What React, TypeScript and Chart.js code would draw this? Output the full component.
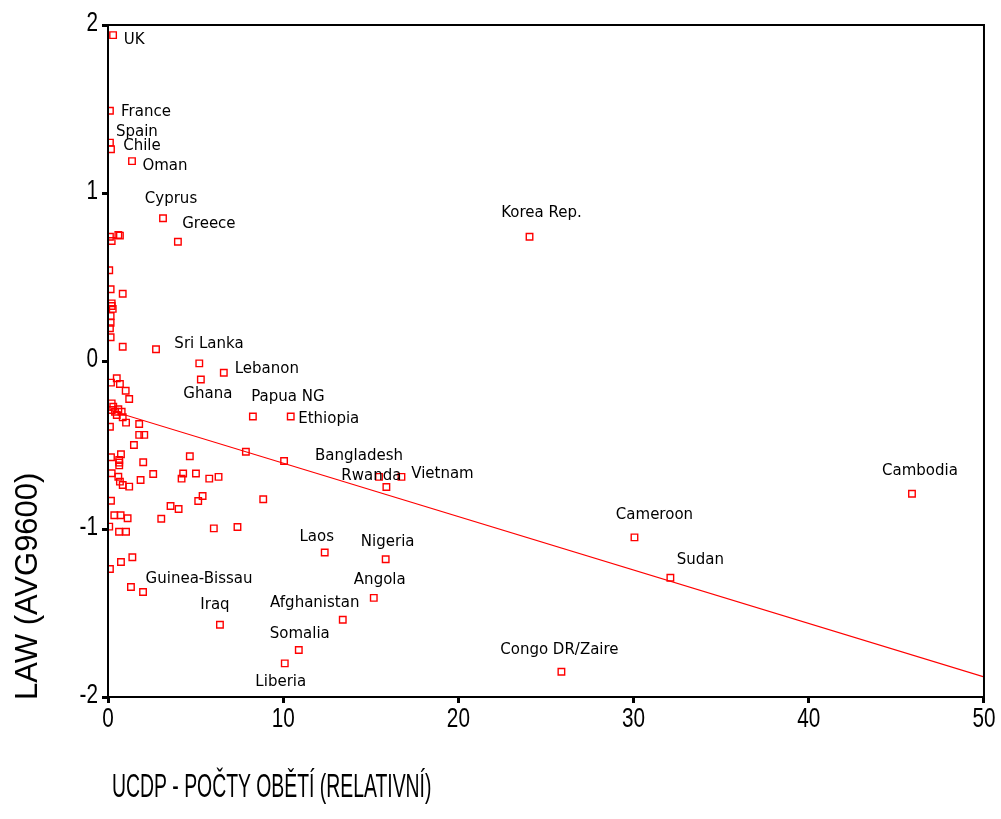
import React, { useEffect, useRef } from "react";
import { Chart, registerables } from "chart.js";

Chart.register(...registerables);

// ---- data ----
const pointNames: string[] = [
  "UK", "France", "Spain", "Chile", "Oman", "Cyprus", "Greece", "Korea Rep.",
  "Sri Lanka", "Lebanon", "Ghana", "Papua NG", "Ethiopia", "Bangladesh", "Vietnam",
  "Rwanda", "Cambodia", "Cameroon", "Sudan", "Laos", "Nigeria", "Angola",
  "Afghanistan", "Somalia", "Liberia", "Congo DR/Zaire", "Iraq", "Guinea-Bissau",
  "", "", "", "", "", "", "", "", "", "", "", "", "", "", "", "", "", "", "", "",
  "", "", "", "", "", "", "", "", "", "", "", "", "", "", "", "", "", "", "", "",
  "", "", "", "", "", "", "", "", "", "", "", "", "", "", "", "", "", "", "", "",
  "", "", "", "", "", "", "",
];

const casualties: number[] = [
  0.29, 0.11, 0.11, 0.17, 1.37, 3.14, 3.99, 24.06,
  2.74, 6.61, 5.3, 8.27, 10.43, 15.47, 16.75,
  15.89, 45.89, 30.05, 32.1, 12.37, 15.85, 15.17,
  13.4, 10.89, 10.09, 25.88, 6.39, 2.0,
  0.11, 0.21, 0.59, 0.68, 0.07, 0.15, 0.84, 0.21, 0.21, 0.27, 0.15, 0.15, 0.11, 0.15, 0.84, 5.21,
  0.17, 0.5, 0.68, 1.01, 1.21, 0.21, 0.3, 0.21, 0.4, 0.59, 0.78, 0.84, 0.5, 1.03, 0.11, 1.78,
  1.78, 2.07, 1.48, 0.17, 0.74, 0.64, 0.64, 0.64, 2.01, 4.67, 0.21, 0.59, 0.68, 0.84, 1.21, 1.86,
  2.58, 4.29, 4.2, 5.02, 5.78, 6.31, 7.87, 0.17, 5.4, 5.15, 3.57, 4.03, 3.04, 6.04, 7.39, 8.86,
  0.36, 0.72, 1.12, 0.07, 0.63, 1.03, 1.39, 0.74, 0.11, 1.31, 10.05,
];

const lawScores: number[] = [
  1.94, 1.49, 1.3, 1.26, 1.19, 0.85, 0.71, 0.74,
  0.07, -0.07, -0.11, -0.33, -0.33, -0.69, -0.69,
  -0.75, -0.79, -1.05, -1.29, -1.14, -1.18, -1.41,
  -1.54, -1.72, -1.8, -1.85, -1.57, -1.375,
  0.74, 0.714, 0.75, 0.746, 0.54, 0.427, 0.4, 0.343, 0.327, 0.31, 0.268, 0.228, 0.195, 0.141, 0.085, -0.014,
  -0.129, -0.103, -0.137, -0.177, -0.226, -0.252, -0.272, -0.292, -0.302, -0.287, -0.302, -0.335, -0.321, -0.367, -0.391, -0.375,
  -0.44, -0.44, -0.5, -0.573, -0.555, -0.589, -0.605, -0.621, -0.603, -0.567, -0.668, -0.689, -0.718, -0.738, -0.748, -0.708,
  -0.673, -0.67, -0.7, -0.67, -0.7, -0.69, -0.54, -0.832, -0.804, -0.833, -0.863, -0.881, -0.939, -0.996, -0.988, -0.823,
  -0.918, -0.918, -0.936, -0.986, -1.016, -1.016, -1.168, -1.196, -1.238, -1.345, -0.595,
];

// regression line end points
const fitX: number[] = [0, 50];
const fitY: number[] = [-0.29, -1.88];

const xTickValues: number[] = [0, 10, 20, 30, 40, 50];
const yTickValues: number[] = [-2, -1, 0, 1, 2];

const xTitle = "UCDP - POČTY OBĚTÍ (RELATIVNÍ)";
const yTitle = "LAW (AVG9600)";

// ---- label placement (styling, pixels relative to the point) ----
const labelOffsets: Record<string, { dx: number; dy: number }> = {
  "UK": { dx: 21, dy: 5 },
  "France": { dx: 36, dy: 1 },
  "Spain": { dx: 27, dy: -10 },
  "Chile": { dx: 31, dy: -3 },
  "Oman": { dx: 33, dy: 5 },
  "Cyprus": { dx: 8, dy: -19 },
  "Greece": { dx: 31, dy: -18 },
  "Korea Rep.": { dx: 12, dy: -24 },
  "Sri Lanka": { dx: 53, dy: -5 },
  "Lebanon": { dx: 43, dy: -4 },
  "Ghana": { dx: 7, dy: 15 },
  "Papua NG": { dx: 35, dy: -19 },
  "Ethiopia": { dx: 38, dy: 3 },
  "Bangladesh": { dx: -20, dy: -21 },
  "Vietnam": { dx: 41, dy: -3 },
  "Rwanda": { dx: -15, dy: -11 },
  "Cambodia": { dx: 8, dy: -23 },
  "Cameroon": { dx: 20, dy: -22 },
  "Sudan": { dx: 30, dy: -18 },
  "Laos": { dx: -8, dy: -15 },
  "Nigeria": { dx: 2, dy: -17 },
  "Angola": { dx: 6, dy: -18 },
  "Afghanistan": { dx: -28, dy: -17 },
  "Somalia": { dx: 1, dy: -16 },
  "Liberia": { dx: -4, dy: 19 },
  "Congo DR/Zaire": { dx: -2, dy: -22 },
  "Iraq": { dx: -5, dy: -20 },
  "Guinea-Bissau": { dx: 56, dy: -13 },
};

const W = 1001;
const H = 819;
const NARROW = 0.74;

const framePlugin = {
  id: "frameBox",
  afterDraw(chart: any) {
    const { ctx, chartArea } = chart;
    ctx.save();
    ctx.strokeStyle = "#000";
    ctx.lineWidth = 2;
    ctx.strokeRect(chartArea.left, chartArea.top, chartArea.right - chartArea.left, chartArea.bottom - chartArea.top);
    ctx.restore();
  },
};

const pointLabelPlugin = {
  id: "pointLabels",
  afterDatasetsDraw(chart: any) {
    const { ctx } = chart;
    const xs = chart.scales.x;
    const ys = chart.scales.y;
    ctx.save();
    ctx.font = '15px "DejaVu Sans", sans-serif';
    ctx.fillStyle = "#000";
    ctx.textAlign = "center";
    ctx.textBaseline = "middle";
    pointNames.forEach((name, i) => {
      if (!name) return;
      const off = labelOffsets[name] || { dx: 20, dy: -15 };
      ctx.fillText(name, xs.getPixelForValue(casualties[i]) + off.dx, ys.getPixelForValue(lawScores[i]) + off.dy);
    });
    ctx.restore();
  },
};

// narrow, tall tick numerals positioned with the library's scales
const tickLabelPlugin = {
  id: "narrowTicks",
  afterDraw(chart: any) {
    const { ctx } = chart;
    const xs = chart.scales.x;
    const ys = chart.scales.y;
    ctx.save();
    ctx.fillStyle = "#000";
    ctx.font = '28px "Liberation Sans", Arial, sans-serif';
    ctx.textBaseline = "middle";
    xs.ticks.forEach((t: any) => {
      const px = xs.getPixelForValue(t.value);
      ctx.save();
      ctx.translate(px, 719);
      ctx.scale(NARROW, 1);
      ctx.textAlign = "center";
      ctx.fillText(String(t.value), 0, 0);
      ctx.restore();
    });
    ys.ticks.forEach((t: any) => {
      const py = ys.getPixelForValue(t.value);
      ctx.save();
      ctx.translate(98, py - 2);
      ctx.scale(NARROW, 1);
      ctx.textAlign = "right";
      ctx.fillText(String(t.value), 0, 0);
      ctx.restore();
    });
    ctx.restore();
  },
};

const axisTitlePlugin = {
  id: "axisTitles",
  afterDraw(chart: any) {
    const { ctx, chartArea } = chart;
    ctx.save();
    ctx.fillStyle = "#000";
    ctx.textBaseline = "alphabetic";
    ctx.textAlign = "left";
    ctx.save();
    ctx.font = '34px "Liberation Sans", Arial, sans-serif';
    ctx.translate(chartArea.left + 4, 797);
    ctx.scale(0.57, 1);
    ctx.fillText(xTitle, 0, 0);
    ctx.restore();
    ctx.save();
    ctx.font = '31px "Liberation Sans", Arial, sans-serif';
    ctx.translate(37, chartArea.bottom + 3);
    ctx.rotate(-Math.PI / 2);
    ctx.fillText(yTitle, 0, 0);
    ctx.restore();
    ctx.restore();
  },
};

export default function App() {
  const ref = useRef<HTMLCanvasElement | null>(null);

  useEffect(() => {
    if (!ref.current) return;
    const tickFont = { family: '"Liberation Sans", Arial, sans-serif', size: 27 };
    const chart = new Chart(ref.current, {
      type: "scatter",
      data: {
        datasets: [
          {
            type: "scatter",
            label: "countries",
            data: casualties.map((x, i) => ({ x, y: lawScores[i] })),
            pointStyle: "rect",
            pointRadius: 4.6,
            pointBorderWidth: 1.4,
            pointBorderColor: "#ff0000",
            pointBackgroundColor: "rgba(0,0,0,0)",
            order: 1,
          } as any,
          {
            type: "line",
            label: "fit",
            data: fitX.map((x, i) => ({ x, y: fitY[i] })),
            borderColor: "#ff0000",
            borderWidth: 1.2,
            pointRadius: 0,
            fill: false,
            order: 2,
          } as any,
        ],
      },
      options: {
        responsive: false,
        animation: false,
        events: [],
        layout: { padding: { left: 0, top: 25, right: 16, bottom: 0 } },
        plugins: {
          legend: { display: false },
          tooltip: { enabled: false },
          title: { display: false },
        },
        scales: {
          x: {
            type: "linear",
            min: 0,
            max: 50,
            afterBuildTicks: (s: any) => {
              s.ticks = xTickValues.map((v) => ({ value: v }));
            },
            afterFit: (s: any) => {
              s.height = H - 697;
            },
            grid: {
              drawOnChartArea: false,
              drawTicks: true,
              tickLength: 6,
              tickWidth: 3,
              tickColor: "#000",
            },
            border: { display: true, color: "#000", width: 2 },
            ticks: { font: tickFont, color: "rgba(0,0,0,0)", padding: 2, maxRotation: 0 },
          },
          y: {
            type: "linear",
            min: -2,
            max: 2,
            afterBuildTicks: (s: any) => {
              s.ticks = yTickValues.map((v) => ({ value: v }));
            },
            afterFit: (s: any) => {
              s.width = 108;
            },
            grid: {
              drawOnChartArea: false,
              drawTicks: true,
              tickLength: 6,
              tickWidth: 3,
              tickColor: "#000",
            },
            border: { display: true, color: "#000", width: 2 },
            ticks: { font: tickFont, color: "rgba(0,0,0,0)", padding: 4 },
          },
        },
      },
      plugins: [framePlugin, pointLabelPlugin, tickLabelPlugin, axisTitlePlugin],
    } as any);
    return () => chart.destroy();
  }, []);

  return (
    <div style={{ position: "absolute", left: 0, top: 0, width: W, height: H, background: "#fff" }}>
      <canvas ref={ref} width={W} height={H} style={{ display: "block", width: W, height: H }} />
    </div>
  );
}
